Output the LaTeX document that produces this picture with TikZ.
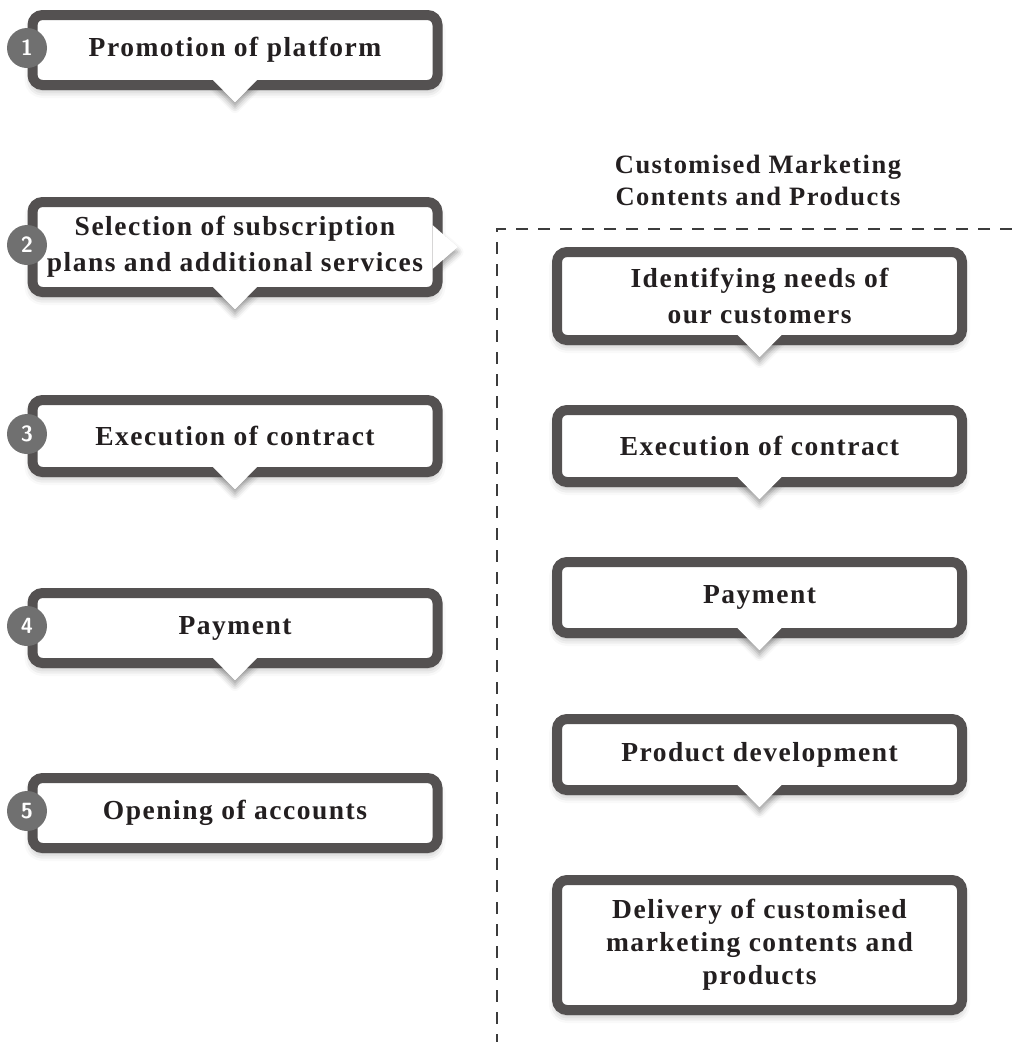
\documentclass[tikz,border=0pt]{standalone}
\usepackage{fontspec}
\setmainfont{Liberation Serif}[LetterSpace=5.5]
\usetikzlibrary{positioning,calc,shadows.blur}

\pgfdeclarelayer{background}
\pgfsetlayers{background,main}

\definecolor{framegray}{RGB}{84,81,81}
\definecolor{badgegray}{RGB}{112,112,112}
\definecolor{inktext}{RGB}{35,31,32}
\definecolor{dashgray}{RGB}{60,60,60}

\tikzset{
  callout/.style={draw=framegray, line width=10pt, rounded corners=10pt, fill=white,
    inner sep=0pt, outer sep=0pt, minimum width=405pt, align=center, text=inktext,
    font=\fontsize{27.5}{36}\selectfont\bfseries,
    blur shadow={shadow xshift=0pt, shadow yshift=-5pt, shadow opacity=35, shadow blur radius=8pt}},
  badge/.style={circle, fill=badgegray, inner sep=0pt, minimum size=40pt, text=white,
    font=\fontsize{22}{22}\selectfont\sffamily\bfseries},
  tipfill/.style={fill=white},
  tipshadow/.style={fill=white, blur shadow={shadow xshift=0pt, shadow yshift=-5pt, shadow opacity=40, shadow blur radius=6pt}},
  regionline/.style={draw=dashgray, line width=1.4pt, dash pattern=on 12pt off 10pt},
  heading/.style={align=center, text=inktext, font=\fontsize{26.5}{32}\selectfont\bfseries},
}

\begin{document}
\begin{tikzpicture}[x=1pt,y=1pt,yscale=-1,xscale=1]
\useasboundingbox (0,0) rectangle (1012,1042);

%Shape: dashed region [id:region]
\draw [regionline] (1012,229) -- (497,229) -- (497,1042) ;

% Text Node
\node [heading] (title) at (758,180) {Customised Marketing\\Contents and Products};

%Left column callouts
\node [callout, minimum height=70pt] (b1) at (235,50) {Promotion of platform};
\node [callout, minimum height=90pt] (b2) at (235,247) {Selection of subscription\\plans and additional services};
\node [callout, minimum height=72pt] (b3) at (235,436) {Execution of contract};
\node [callout, minimum height=70pt] (b4) at (235,628) {Payment};
\node [callout, minimum height=70pt] (b5) at (235,813) {Opening of accounts};

%Right column callouts
\node [callout, minimum height=88pt] (r1) at (759.5,296) {Identifying needs of\\our customers};
\node [callout, minimum height=72pt] (r2) at (759.5,446) {Execution of contract};
\node [callout, minimum height=71pt] (r3) at (759.5,597.5) {Payment};
\node [callout, minimum height=71pt] (r4) at (759.5,754.5) {Product development};
\node [callout, minimum height=130pt, font=\fontsize{27.5}{33}\selectfont\bfseries] (r5) at (759.5,945) {Delivery of customised\\marketing contents and\\products};

%Shape: pointer tips (shadow behind, white on top)
\begin{pgfonlayer}{background}
\path [tipshadow] ($(b1.south)+(-22,-5)$) -- ($(b1.south)+(0,17)$) -- ($(b1.south)+(22,-5)$) -- cycle ;
\path [tipshadow] ($(b2.south)+(-22,-5)$) -- ($(b2.south)+(0,17)$) -- ($(b2.south)+(22,-5)$) -- cycle ;
\path [tipshadow] ($(b2.east)+(-5,-22)$) -- ($(b2.east)+(20,0)$) -- ($(b2.east)+(-5,22)$) -- cycle ;
\path [tipshadow] ($(b3.south)+(-22,-5)$) -- ($(b3.south)+(0,17)$) -- ($(b3.south)+(22,-5)$) -- cycle ;
\path [tipshadow] ($(b4.south)+(-22,-5)$) -- ($(b4.south)+(0,17)$) -- ($(b4.south)+(22,-5)$) -- cycle ;
\path [tipshadow] ($(r1.south)+(-22,-5)$) -- ($(r1.south)+(0,17)$) -- ($(r1.south)+(22,-5)$) -- cycle ;
\path [tipshadow] ($(r2.south)+(-22,-5)$) -- ($(r2.south)+(0,17)$) -- ($(r2.south)+(22,-5)$) -- cycle ;
\path [tipshadow] ($(r3.south)+(-22,-5)$) -- ($(r3.south)+(0,17)$) -- ($(r3.south)+(22,-5)$) -- cycle ;
\path [tipshadow] ($(r4.south)+(-22,-5)$) -- ($(r4.south)+(0,17)$) -- ($(r4.south)+(22,-5)$) -- cycle ;
\end{pgfonlayer}
\fill [tipfill] ($(b1.south)+(-22,-5)$) -- ($(b1.south)+(0,17)$) -- ($(b1.south)+(22,-5)$) -- cycle ;
\fill [tipfill] ($(b2.south)+(-22,-5)$) -- ($(b2.south)+(0,17)$) -- ($(b2.south)+(22,-5)$) -- cycle ;
\fill [tipfill] ($(b2.east)+(-5,-22)$) -- ($(b2.east)+(20,0)$) -- ($(b2.east)+(-5,22)$) -- cycle ;
\fill [tipfill] ($(b3.south)+(-22,-5)$) -- ($(b3.south)+(0,17)$) -- ($(b3.south)+(22,-5)$) -- cycle ;
\fill [tipfill] ($(b4.south)+(-22,-5)$) -- ($(b4.south)+(0,17)$) -- ($(b4.south)+(22,-5)$) -- cycle ;
\fill [tipfill] ($(r1.south)+(-22,-5)$) -- ($(r1.south)+(0,17)$) -- ($(r1.south)+(22,-5)$) -- cycle ;
\fill [tipfill] ($(r2.south)+(-22,-5)$) -- ($(r2.south)+(0,17)$) -- ($(r2.south)+(22,-5)$) -- cycle ;
\fill [tipfill] ($(r3.south)+(-22,-5)$) -- ($(r3.south)+(0,17)$) -- ($(r3.south)+(22,-5)$) -- cycle ;
\fill [tipfill] ($(r4.south)+(-22,-5)$) -- ($(r4.south)+(0,17)$) -- ($(r4.south)+(22,-5)$) -- cycle ;

%Number badges
\node [badge] (n1) at ($(b1.west)+(-5.5,-2)$) {1};
\node [badge] (n2) at ($(b2.west)+(-5.5,-2)$) {2};
\node [badge] (n3) at ($(b3.west)+(-5.5,-2)$) {3};
\node [badge] (n4) at ($(b4.west)+(-5.5,-2)$) {4};
\node [badge] (n5) at ($(b5.west)+(-5.5,-2)$) {5};

\end{tikzpicture}
\end{document}
